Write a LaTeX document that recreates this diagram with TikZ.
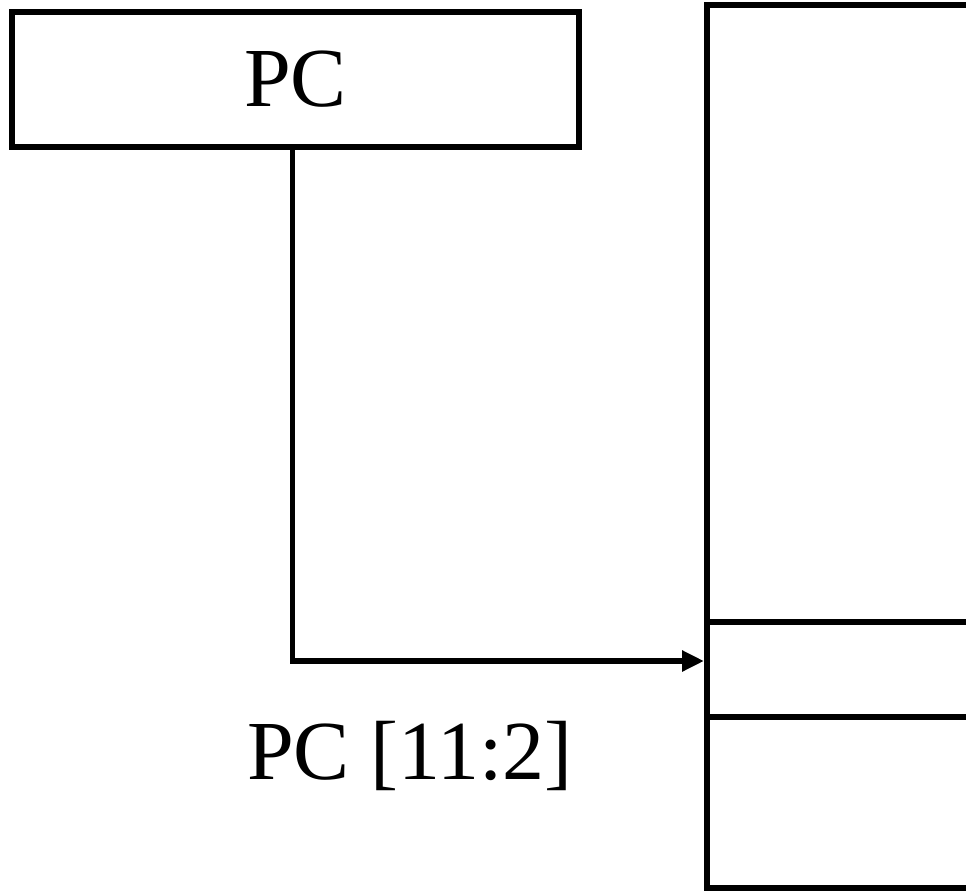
\documentclass[tikz,border=0pt]{standalone}
\usepackage{fontspec}
\setmainfont{Liberation Serif}
\usetikzlibrary{arrows.meta, positioning}

\begin{document}
\begin{tikzpicture}[x=1pt, y=-1pt,
            regbox/.style={draw=black, line width=5.5pt, minimum width=567pt, minimum height=135pt, inner sep=0pt, font=\fontsize{84}{90}\selectfont},
            memline/.style={line width=6pt, black},
            wire/.style={line width=5.5pt, black, -{Triangle[length=22pt, width=20pt]}},
            buslabel/.style={font=\fontsize{84}{90}\selectfont, anchor=base}
        ]
            \useasboundingbox (0,0) rectangle (966,893);

            \node[regbox] (pc) at (295.5,79.5) {PC};

            \draw[memline] (966,5) -| (707,888) -- (966,888);
            \draw[memline] (707,622) -- (966,622);
            \draw[memline] (707,717) -- (966,717);
            \coordinate (row) at (704,661);

            \draw[wire] ([xshift=-3pt]pc.south) |- (row);
            \node[buslabel] (index) at (410,779) {PC [11:2]};
        \end{tikzpicture}
\end{document}
